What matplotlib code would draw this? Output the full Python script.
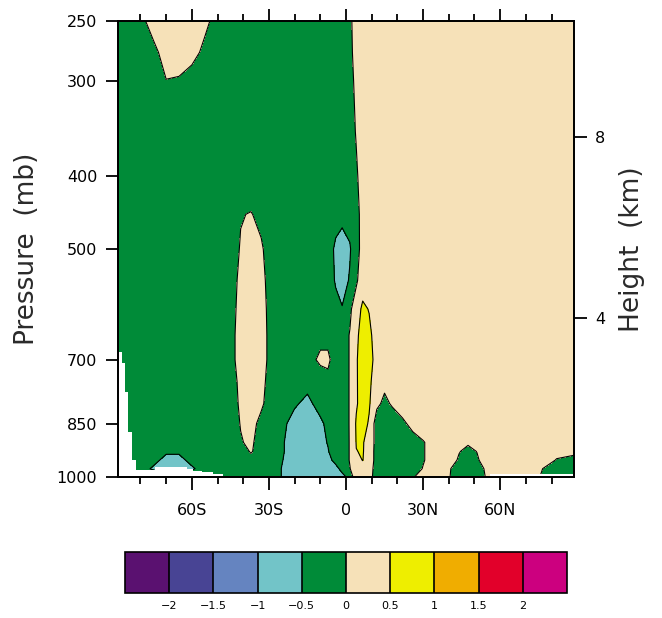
import numpy as np
import matplotlib
matplotlib.use('Agg')
import matplotlib.pyplot as plt
from matplotlib.colors import ListedColormap, BoundaryNorm
import matplotlib.cm as cm

# latitude columns of the cross-section grid
lat = [-88.75, -85, -80, -75, -70, -65, -60, -55, -50, -45, -41, -37, -33, -29,
       -25, -20, -15, -10, -7, -4, -1.5, 1.5, 4, 6.5, 9, 12, 15, 18,
       22, 26, 30, 35, 40, 44, 47.5, 51, 55, 62, 70, 76, 82, 88.75]

# one row of values per pressure level (mb)
p250 = [-0.25, -0.25, -0.1, 0.15, 0.2, 0.2, 0.15, 0.1, -0.15, -0.25, -0.25, -0.25, -0.25, -0.25,
        -0.25, -0.25, -0.25, -0.25, -0.25, -0.25, -0.2, -0.09, 0.2, 0.25, 0.25, 0.25, 0.25, 0.25,
        0.25, 0.25, 0.25, 0.25, 0.25, 0.25, 0.25, 0.25, 0.25, 0.25, 0.25, 0.25, 0.25, 0.25]
p275 = [-0.25, -0.25, -0.2, -0.1, 0.15, 0.15, 0.15, -0.1, -0.2, -0.25, -0.25, -0.25, -0.25, -0.25,
        -0.25, -0.25, -0.25, -0.25, -0.25, -0.25, -0.2, -0.1, 0.15, 0.25, 0.25, 0.25, 0.25, 0.25,
        0.25, 0.25, 0.25, 0.25, 0.25, 0.25, 0.25, 0.25, 0.25, 0.25, 0.25, 0.25, 0.25, 0.25]
p300 = [-0.25, -0.25, -0.25, -0.2, -0.01, -0.03, -0.2, -0.25, -0.25, -0.25, -0.25, -0.25, -0.25, -0.25,
        -0.25, -0.25, -0.25, -0.25, -0.25, -0.25, -0.22, -0.14, 0.1, 0.25, 0.25, 0.25, 0.25, 0.25,
        0.25, 0.25, 0.25, 0.25, 0.25, 0.25, 0.25, 0.25, 0.25, 0.25, 0.25, 0.25, 0.25, 0.25]
p350 = [-0.25, -0.25, -0.25, -0.25, -0.25, -0.25, -0.25, -0.25, -0.25, -0.25, -0.25, -0.25, -0.25, -0.25,
        -0.25, -0.25, -0.25, -0.25, -0.25, -0.25, -0.22, -0.18, 0.03, 0.22, 0.25, 0.25, 0.25, 0.25,
        0.25, 0.25, 0.25, 0.25, 0.25, 0.25, 0.25, 0.25, 0.25, 0.25, 0.25, 0.25, 0.25, 0.25]
p400 = [-0.25, -0.25, -0.25, -0.25, -0.25, -0.25, -0.25, -0.25, -0.25, -0.25, -0.25, -0.25, -0.25, -0.25,
        -0.25, -0.25, -0.25, -0.25, -0.25, -0.25, -0.25, -0.2, -0.06, 0.2, 0.25, 0.25, 0.25, 0.25,
        0.25, 0.25, 0.25, 0.25, 0.25, 0.25, 0.25, 0.25, 0.25, 0.25, 0.25, 0.25, 0.25, 0.25]
p450 = [-0.25, -0.25, -0.25, -0.25, -0.25, -0.25, -0.25, -0.25, -0.25, -0.2, -0.02, 0.02, -0.1, -0.25,
        -0.25, -0.25, -0.25, -0.25, -0.25, -0.3, -0.35, -0.3, -0.12, 0.13, 0.25, 0.25, 0.25, 0.25,
        0.25, 0.25, 0.25, 0.25, 0.25, 0.25, 0.25, 0.25, 0.25, 0.25, 0.25, 0.25, 0.25, 0.25]
p500 = [-0.25, -0.25, -0.25, -0.25, -0.25, -0.25, -0.25, -0.25, -0.25, -0.2, 0.03, 0.15, 0.05, -0.2,
        -0.25, -0.25, -0.25, -0.25, -0.25, -0.6, -0.75, -0.55, -0.12, 0.12, 0.25, 0.25, 0.25, 0.25,
        0.25, 0.25, 0.25, 0.25, 0.25, 0.25, 0.25, 0.25, 0.25, 0.25, 0.25, 0.25, 0.25, 0.25]
p550 = [-0.25, -0.25, -0.25, -0.25, -0.25, -0.25, -0.25, -0.25, -0.25, -0.15, 0.08, 0.2, 0.1, -0.15,
        -0.25, -0.25, -0.25, -0.25, -0.25, -0.55, -0.72, -0.45, -0.08, 0.3, 0.25, 0.25, 0.25, 0.25,
        0.25, 0.25, 0.25, 0.25, 0.25, 0.25, 0.25, 0.25, 0.25, 0.25, 0.25, 0.25, 0.25, 0.25]
p600 = [-0.25, -0.25, -0.25, -0.25, -0.25, -0.25, -0.25, -0.25, -0.25, -0.12, 0.1, 0.22, 0.12, -0.12,
        -0.25, -0.25, -0.25, -0.25, -0.25, -0.35, -0.47, -0.1, 0.3, 0.58, 0.48, 0.3, 0.25, 0.25,
        0.25, 0.25, 0.25, 0.25, 0.25, 0.25, 0.25, 0.25, 0.25, 0.25, 0.25, 0.25, 0.25, 0.25]
p650 = [-0.25, -0.25, -0.25, -0.25, -0.25, -0.25, -0.25, -0.25, -0.25, -0.1, 0.12, 0.22, 0.12, -0.1,
        -0.25, -0.25, -0.2, -0.15, -0.15, -0.25, -0.25, 0.03, 0.4, 0.7, 0.6, 0.3, 0.25, 0.25,
        0.25, 0.25, 0.25, 0.25, 0.25, 0.25, 0.25, 0.25, 0.25, 0.25, 0.25, 0.25, 0.25, 0.25]
p700 = [-0.25, -0.25, -0.25, -0.25, -0.25, -0.25, -0.25, -0.25, -0.25, -0.1, 0.12, 0.22, 0.12, -0.1,
        -0.25, -0.25, -0.2, 0.1, 0.1, -0.25, -0.25, 0.03, 0.45, 0.75, 0.65, 0.35, 0.25, 0.25,
        0.25, 0.25, 0.25, 0.25, 0.25, 0.25, 0.25, 0.25, 0.25, 0.25, 0.25, 0.25, 0.25, 0.25]
p750 = [-0.25, -0.25, -0.25, -0.25, -0.25, -0.25, -0.25, -0.25, -0.25, -0.15, 0.08, 0.2, 0.1, -0.15,
        -0.25, -0.3, -0.38, -0.3, -0.15, -0.25, -0.25, 0.03, 0.45, 0.72, 0.57, 0.3, 0.1, 0.15,
        0.25, 0.25, 0.25, 0.25, 0.25, 0.25, 0.25, 0.25, 0.25, 0.25, 0.25, 0.25, 0.25, 0.25]
p800 = [-0.25, -0.25, -0.25, -0.25, -0.25, -0.25, -0.25, -0.25, -0.25, -0.18, 0.06, 0.18, 0.06, -0.18,
        -0.3, -0.45, -0.6, -0.35, -0.25, -0.25, -0.25, 0.03, 0.45, 0.7, 0.55, 0.1, -0.1, 0.05,
        0.25, 0.25, 0.25, 0.25, 0.25, 0.25, 0.25, 0.25, 0.25, 0.25, 0.25, 0.25, 0.25, 0.25]
p850 = [-0.25, -0.25, -0.25, -0.25, -0.25, -0.25, -0.25, -0.25, -0.25, -0.22, 0.02, 0.12, -0.1, -0.3,
        -0.4, -0.65, -0.75, -0.58, -0.4, -0.3, -0.25, 0.03, 0.55, 0.68, 0.45, -0.26, -0.3, -0.25,
        -0.1, 0.15, 0.25, 0.25, 0.25, 0.25, 0.25, 0.25, 0.25, 0.25, 0.25, 0.25, 0.25, 0.25]
p900 = [-0.25, -0.25, -0.25, -0.25, -0.25, -0.25, -0.25, -0.25, -0.25, -0.25, -0.03, 0.08, -0.2, -0.3,
        -0.45, -0.7, -0.75, -0.6, -0.48, -0.3, -0.3, 0.03, 0.52, 0.53, 0.35, -0.2, -0.3, -0.3,
        -0.28, -0.2, -0.03, 0.2, 0.25, 0.2, 0.05, 0.2, 0.25, 0.25, 0.25, 0.25, 0.25, 0.25]
p925 = [-0.25, -0.25, -0.25, -0.25, -0.45, -0.45, -0.3, -0.25, -0.25, -0.25, -0.15, 0.03, -0.15, -0.3,
        -0.45, -0.7, -0.75, -0.65, -0.52, -0.3, -0.3, 0.03, 0.49, 0.53, 0.3, -0.2, -0.3, -0.3,
        -0.3, -0.3, -0.03, 0.2, 0.2, 0.02, -0.1, 0.01, 0.2, 0.25, 0.25, 0.2, 0.1, 0.08]
p950 = [-0.25, -0.25, -0.3, -0.4, -0.6, -0.6, -0.4, -0.3, -0.25, -0.25, -0.25, -0.1, -0.25, -0.3,
        -0.48, -0.7, -0.75, -0.7, -0.6, -0.4, -0.3, 0.03, 0.4, 0.51, 0.3, -0.2, -0.3, -0.3,
        -0.3, -0.3, -0.03, 0.2, 0.2, -0.05, -0.25, -0.05, 0.2, 0.25, 0.25, 0.2, -0.02, -0.1]
p975 = [-0.25, -0.25, -0.35, -0.55, -0.65, -0.65, -0.55, -0.35, -0.25, -0.25, -0.25, -0.25, -0.25, -0.3,
        -0.51, -0.7, -0.72, -0.72, -0.68, -0.6, -0.4, -0.02, 0.3, 0.35, 0.2, -0.2, -0.3, -0.3,
        -0.3, -0.2, 0.02, 0.2, 0.05, -0.2, -0.3, -0.2, 0.1, 0.2, 0.2, 0.02, -0.2, -0.25]
p1000 = [-0.25, -0.25, -0.25, -0.25, -0.25, -0.25, -0.25, -0.25, -0.25, -0.25, -0.25, -0.25, -0.25, -0.3,
         -0.51, -0.7, -0.72, -0.72, -0.7, -0.7, -0.6, -0.4, 0.43, 0.3, 0.15, -0.2, -0.3, -0.3,
         -0.2, -0.03, 0.15, 0.2, 0.03, -0.2, -0.3, -0.2, 0.05, 0.2, 0.2, -0.02, -0.25, -0.25]

lev = [250, 275, 300, 350, 400, 450, 500, 550, 600, 650, 700, 750, 800, 850, 900, 925, 950, 975, 1000]
rows = [p250, p275, p300, p350, p400, p450, p500, p550, p600, p650, p700, p750, p800, p850,
        p900, p925, p950, p975, p1000]

# below-ground (missing) area: surface pressure per latitude band
sfc_lat_s = [-88.75, -87.3, -86.1, -84.9, -83.4, -81.8, -74.4, -61.9, -59.6, -56.1, -51.8, -47.9]
sfc_p_s = [684, 707, 772, 872, 950, 979, 970, 976, 982, 985, 991, 991]
sfc_lat_n = [56.0, 88.75]
sfc_p_n = [991, 991]

bounds = [-2, -1.5, -1, -0.5, 0, 0.5, 1, 1.5, 2]
colors = ['#5A1170', '#484494', '#6584C0', '#72C4C8', '#008B38',
          '#F6E1B8', '#EEEE00', '#F0AD00', '#E2002A', '#CC007F']

field = np.array(rows)

fig = plt.figure(figsize=(6.62, 6.18), dpi=100)
ax = fig.add_axes([118/662, 1-477/618, 456/662, 456/618])

ax.contourf(lat, lev, field, levels=[-100] + bounds + [100], colors=colors)
ax.contour(lat, lev, field, levels=bounds, colors='black', linewidths=0.8, linestyles='solid')
ax.fill_between(sfc_lat_s, sfc_p_s, 1000, step='post', color='white', lw=0, zorder=2.2)
ax.fill_between(sfc_lat_n, sfc_p_n, 1000, step='post', color='white', lw=0, zorder=2.2)

ax.set_yscale('log')
ax.set_ylim(1000, 250)
ax.set_xlim(-88.75, 88.75)
ax.set_yticks([250, 300, 400, 500, 700, 850, 1000])
ax.set_yticklabels(['250', '300', '400', '500', '700', '850', '1000'])
ax.yaxis.set_minor_locator(matplotlib.ticker.NullLocator())

def lat_label(v):
    if v < 0:
        return '%dS' % -v
    if v > 0:
        return '%dN' % v
    return '0'

xmaj = [-60, -30, 0, 30, 60]
ax.set_xticks(xmaj)
ax.set_xticklabels([lat_label(v) for v in xmaj])
ax.set_xticks([-80, -70, -50, -40, -20, -10, 10, 20, 40, 50, 70, 80], minor=True)
ax.tick_params(which='both', direction='out', top=True, width=1.3, labelsize=11.5, pad=6)
ax.tick_params(which='major', length=9)
ax.tick_params(which='minor', length=5)
ax.tick_params(axis='x', pad=10)
for s in ax.spines.values():
    s.set_linewidth(1.3)
ax.set_ylabel('Pressure  (mb)', fontsize=19, color='#2a2a2a', labelpad=12)

# height axis from the standard atmosphere
heights = np.array([4.0, 8.0])
p_height = 1013.25 * (1 - 0.0065 * heights * 1000 / 288.15) ** 5.2559
ax2 = ax.twinx()
ax2.set_yscale('log')
ax2.set_ylim(1000, 250)
ax2.set_yticks(p_height)
ax2.set_yticklabels(['%d' % h for h in heights])
ax2.yaxis.set_minor_locator(matplotlib.ticker.NullLocator())
ax2.tick_params(direction='out', length=9, width=1.3, labelsize=11.5, pad=6)
ax2.set_ylabel('Height  (km)', fontsize=19, color='#2a2a2a', labelpad=10)
for s in ax2.spines.values():
    s.set_linewidth(1.3)

cax = fig.add_axes([125/662, 1-593/618, 442/662, 41/618])
cmap = ListedColormap(colors)
norm = BoundaryNorm([-2.5] + bounds + [2.5], cmap.N)
cb = fig.colorbar(cm.ScalarMappable(norm=norm, cmap=cmap), cax=cax, orientation='horizontal',
                  ticks=bounds, drawedges=True)
cb.ax.set_xticklabels(['\u22122', '\u22121.5', '\u22121', '\u22120.5', '0', '0.5', '1', '1.5', '2'])
cb.ax.minorticks_off()
cb.ax.tick_params(length=0, labelsize=8, pad=6)
cb.outline.set_linewidth(1.2)
cb.dividers.set_linewidth(1.2)

plt.savefig('out.png', dpi=100)
